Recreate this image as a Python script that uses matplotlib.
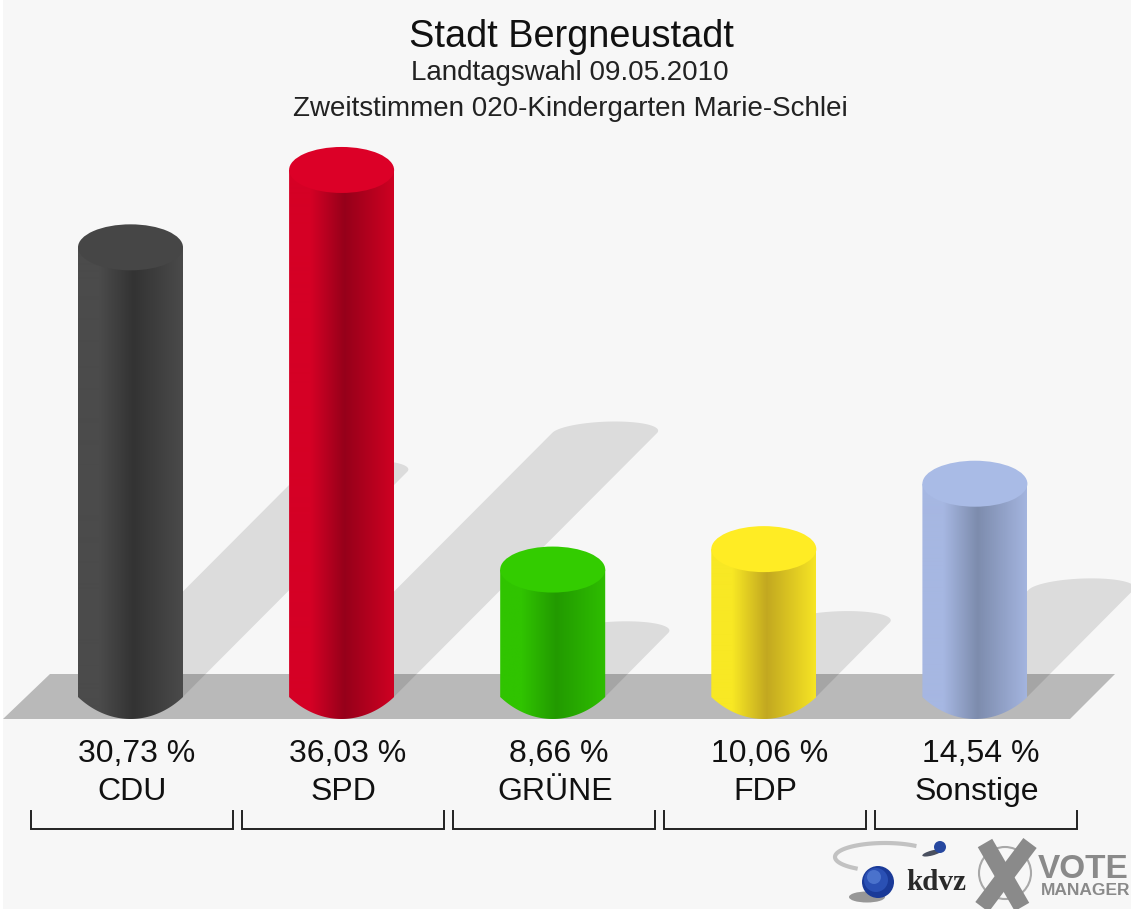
import numpy as np
import matplotlib
matplotlib.use("Agg")
import matplotlib.pyplot as plt
from matplotlib.colors import LinearSegmentedColormap
from matplotlib.patches import Polygon, Ellipse, Circle

plt.rcParams["font.family"] = ["Liberation Sans", "DejaVu Sans"]

parties = ["CDU", "SPD", "GRÜNE", "FDP", "Sonstige"]
values = [30.73, 36.03, 8.66, 10.06, 14.54]
value_labels = ["30,73 %", "36,03 %", "8,66 %", "10,06 %", "14,54 %"]
edge_colors = ["#4b4b4b", "#d50025", "#30c400", "#f8e824", "#a6b7e2"]
dark_colors = ["#333333", "#96001a", "#229a00", "#c2a820", "#7d8cad"]
right_colors = ["#4a4a4a", "#ce0022", "#2ebe00", "#f6e424", "#a3b4de"]
top_colors = ["#464646", "#dc0027", "#33cc00", "#ffec24", "#a9bbe6"]

W, H = 1131, 909
PX_X = 211.1     # pixels per category
PX_Y = 14.6      # pixels per percent
X0 = 130.5       # first bar centre
Y0 = 696         # pixel row of value 0

fig = plt.figure(figsize=(W / 100, H / 100), dpi=100, facecolor="white")

# pixel axes for background, floor, texts and logo
bg = fig.add_axes([0, 0, 1, 1], zorder=0)
bg.set_xlim(0, W)
bg.set_ylim(H, 0)
bg.axis("off")
bg.add_patch(Polygon([(3, 0), (W, 0), (W, H), (3, H)], fc="#f7f7f7", ec="none"))
bg.add_patch(Polygon([(3, 719), (50, 674), (1115, 674), (1070, 719)], fc="#b9b9b9", ec="none"))

# value axes for the cylinders
ax = fig.add_axes([0, 0, 1, 1], zorder=1)
ax.patch.set_alpha(0)
ax.axis("off")
half_w = 52.5 / PX_X
ell_h = 23 / PX_Y
t = np.linspace(-1, 1, 81)

for i, v in enumerate(values):
    left, right = i - half_w, i + half_w
    xs = i + t * half_w

    # shadow falling back at 45 degrees, rounded and skewed at the far end
    rise = v * 0.5
    shift = rise * PX_Y / PX_X
    ang = np.linspace(np.pi, 0, 50)
    sx = i + shift + half_w * (np.cos(ang) + 0.2 * np.sin(ang))
    sy = rise + 0.5 * ell_h * np.sin(ang)
    sx = np.r_[left, sx, right]
    sy = np.r_[-0.05, sy, -0.05]
    ax.fill(sx, sy, fc="black", alpha=0.105, ec="none", zorder=1)

    # cylinder body with horizontal gradient
    f = np.sqrt(1 - (0.6 * t) ** 2)
    f1 = np.sqrt(1 - 0.6 ** 2)
    bottom = -1 / PX_Y - (f - f1) / (1 - f1) * (22 / PX_Y)
    verts = np.r_[np.c_[xs, bottom], [[right, v], [left, v]]]
    body = Polygon(verts, closed=True, transform=ax.transData, fc="none", ec="none")
    ax.add_patch(body)
    cmap = LinearSegmentedColormap.from_list(
        "c", [(0, edge_colors[i]), (0.2, edge_colors[i]), (0.53, dark_colors[i]), (1, right_colors[i])]
    )
    im = ax.imshow(np.linspace(0, 1, 105).reshape(1, -1), cmap=cmap, aspect="auto",
                   extent=[left, right, bottom.min(), v], zorder=3, interpolation="bilinear")
    im.set_clip_path(body)

    # top of the cylinder
    ax.add_patch(Ellipse((i, v), 2 * half_w, 2 * ell_h, fc=top_colors[i], ec="none", zorder=4))

ax.set_xlim((0 - X0) / PX_X, (W - X0) / PX_X)
ax.set_ylim((Y0 - H) / PX_Y, Y0 / PX_Y)

# texts on top
fg = fig.add_axes([0, 0, 1, 1], zorder=2)
fg.patch.set_alpha(0)
fg.set_xlim(0, W)
fg.set_ylim(H, 0)
fg.axis("off")

fg.text(571, 47, "Stadt Bergneustadt", fontsize=27.3, ha="center", va="baseline", color="#111111")
fg.text(570, 80, "Landtagswahl 09.05.2010", fontsize=20, ha="center", va="baseline", color="#222222")
fg.text(570, 116, "Zweitstimmen 020-Kindergarten Marie-Schlei", fontsize=20, ha="center", va="baseline", color="#222222")

for i in range(len(parties)):
    cx = X0 + i * PX_X
    fg.text(cx + 6, 762, value_labels[i], fontsize=23, ha="center", va="baseline", color="#111111")
    fg.text(cx + 2, 800, parties[i], fontsize=23, ha="center", va="baseline", color="#111111")
    fg.plot([cx - 99.5, cx - 99.5, cx + 102.5, cx + 102.5], [811, 829, 829, 811],
            color="#222222", lw=1.4, solid_joinstyle="miter")

# logo
arc_a = np.linspace(0.3, 1.3, 60) * np.pi
fg.plot(885 + 50 * np.cos(arc_a), 857 - 14 * np.sin(arc_a), color="#c2c2c2", lw=3, zorder=2)
fg.add_patch(Ellipse((867, 897), 36, 11, fc="#777777", ec="none", alpha=0.75, zorder=2))
fg.add_patch(Ellipse((932, 853), 20, 5, angle=-15, fc="#4a5060", ec="none", zorder=2))
fg.add_patch(Circle((940, 847), 6, fc="#2748a0", ec="none", zorder=3))
fg.add_patch(Circle((878, 882), 16, fc="#1a3a98", ec="none", zorder=3))
fg.add_patch(Circle((876, 880), 12, fc="#2a50b4", ec="none", zorder=4))
fg.add_patch(Circle((874, 877), 7, fc="#4a72cc", ec="none", zorder=5))
fg.text(936, 890, "kdvz", fontsize=21, family="Liberation Serif", fontweight="bold", ha="center", va="baseline", color="#2a2a2a")
fg.add_patch(Circle((1005, 873), 26, fc="none", ec="#a8a8a8", lw=1.5, zorder=2))
fg.plot([985, 1022], [843, 907], color="#8a8a8a", lw=12, solid_capstyle="butt", zorder=3)
fg.plot([1030, 982], [843, 907], color="#8a8a8a", lw=12, solid_capstyle="butt", zorder=3)
fg.text(1083, 878, "VOTE", fontsize=24, fontweight="bold", ha="center", va="baseline", color="#8a8a8a")
fg.text(1086, 895, "MANAGER", fontsize=12.5, fontweight="bold", ha="center", va="baseline", color="#8a8a8a")

fig.savefig("out.png", dpi=100, facecolor=fig.get_facecolor())
